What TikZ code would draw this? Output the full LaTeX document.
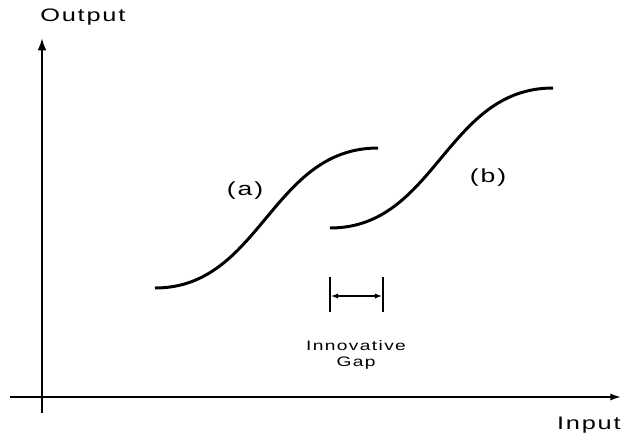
\documentclass[tikz,border=0pt]{standalone}
\usepackage{fontspec}
\setmainfont{Liberation Sans}[FakeStretch=1.4,LetterSpace=10]
\usetikzlibrary{arrows.meta}
\tikzset{
  curve/.style={line width=1.7pt},
  bar/.style={line width=1.3pt},
  lbl/.style={font=\fontsize{10.3}{12}\selectfont}
}
\begin{document}
\begin{tikzpicture}[x=0.02cm,y=-0.02cm]
\useasboundingbox (0,0) rectangle (622,437);
\coordinate (o1) at (42,413);
\coordinate (o2) at (42,38);
\coordinate (i1) at (10,397);
\coordinate (i2) at (621,397);
\draw[line width=1.2pt,-{Latex[length=7pt,width=5pt]}] (o1) -- (o2);
\draw[line width=1pt,-{Latex[length=6pt,width=4pt]}] (i1) -- (i2);
\node[anchor=west,lbl,inner sep=0pt] (out) at (40,17) {Output};
\node[anchor=east,lbl,inner sep=0pt] (in) at (621,425) {Input};
% curve (a)
\draw[curve] (155,288) .. controls (261,288) and (271,148) .. (378,148);
% curve (b)
\draw[curve] (330,228) .. controls (436,228) and (446,88) .. (553,88);
\node[lbl,font=\fontsize{10.8}{12}\selectfont] (a) at (245,191) {(a)};
\node[lbl,font=\fontsize{10.8}{12}\selectfont] (b) at (488,178) {(b)};
\coordinate (g1t) at (330,277);
\coordinate (g1b) at (330,312);
\coordinate (g2t) at (383,277);
\coordinate (g2b) at (383,312);
\draw[bar] (g1t) -- (g1b);
\draw[bar] (g2t) -- (g2b);
\draw[line width=0.7pt,{Latex[length=4pt,width=3pt]}-{Latex[length=4pt,width=3pt]}] (331,296) -- (382,296);
\node[font=\fontsize{7.8}{9.5}\selectfont,align=center] (gap) at (356,355) {Innovative\\Gap};
\end{tikzpicture}
\end{document}
